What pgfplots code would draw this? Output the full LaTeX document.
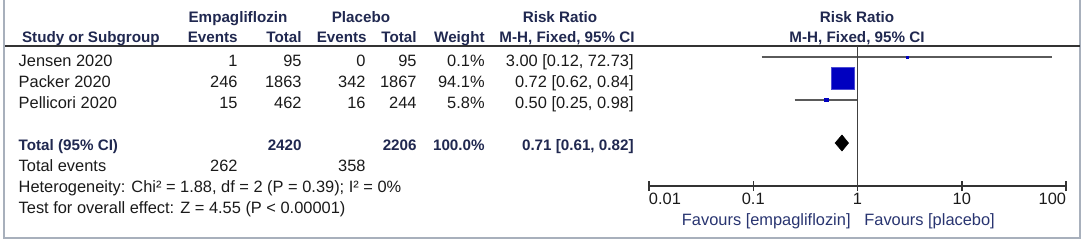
\documentclass[border=0pt]{standalone}
\usepackage{fontspec}
\setmainfont{Liberation Sans}
\usepackage{pgfplots}
\pgfplotsset{compat=1.18}
\definecolor{txt}{HTML}{1A1A1A}
\definecolor{hdr}{HTML}{202850}
\definecolor{fav}{HTML}{283470}
\definecolor{frame}{HTML}{A8B0BC}
\definecolor{ciline}{HTML}{5A5A5A}
\definecolor{sq}{HTML}{0000C0}
\begin{document}
\begin{tikzpicture}[x=0.5pt,y=-0.5pt,
  t/.style={font=\fontsize{8.2}{9}\selectfont, text=txt, inner sep=0pt},
  h/.style={font=\fontsize{7.6}{9}\selectfont\bfseries, text=hdr, inner sep=0pt}]
\useasboundingbox (0,0) rectangle (1084,243);
% frame
\draw[frame, line width=1pt] (4,0) -- (4,238) -- (1080,238) -- (1080,0);
\draw[black!80, line width=0.75pt] (5,46) -- (1080,46);
% headers
\node[h, anchor=base] at (238,22) {Empagliflozin};
\node[h, anchor=base] at (361,22) {Placebo};
\node[h, anchor=base] at (560,22) {Risk Ratio};
\node[h, anchor=base] at (857,22) {Risk Ratio};
\node[h, anchor=base west] at (21.7,42.7) {Study or Subgroup};
\node[h, anchor=base east] at (238,42.7) {Events};
\node[h, anchor=base east] at (302,42.7) {Total};
\node[h, anchor=base east] at (367,42.7) {Events};
\node[h, anchor=base east] at (417,42.7) {Total};
\node[h, anchor=base east] at (485,42.7) {Weight};
\node[h, anchor=base east] at (635,42.7) {M-H, Fixed, 95\% CI};
\node[h, anchor=base] at (857,42.7) {M-H, Fixed, 95\% CI};
% study rows
\foreach \name/\ee/\et/\pe/\pt/\w/\rr/\yb in {
  Jensen 2020/1/95/0/95/0.1\%/{3.00 [0.12, 72.73]}/66.7,
  Packer 2020/246/1863/342/1867/94.1\%/{0.72 [0.62, 0.84]}/87.3,
  Pellicori 2020/15/462/16/244/5.8\%/{0.50 [0.25, 0.98]}/108.7}{
  \node[t, anchor=base west] at (18.3,\yb) {\name};
  \node[t, anchor=base east] at (238,\yb) {\ee};
  \node[t, anchor=base east] at (302,\yb) {\et};
  \node[t, anchor=base east] at (366,\yb) {\pe};
  \node[t, anchor=base east] at (417,\yb) {\pt};
  \node[t, anchor=base east] at (485,\yb) {\w};
  \node[t, anchor=base east] at (634,\yb) {\rr};
}
% total row
\node[h, anchor=base west] at (18.3,150.7) {Total (95\% CI)};
\node[h, anchor=base east] at (302,150.7) {2420};
\node[h, anchor=base east] at (417,150.7) {2206};
\node[h, anchor=base east] at (485,150.7) {100.0\%};
\node[h, anchor=base east] at (634,150.7) {0.71 [0.61, 0.82]};
\node[t, anchor=base west] at (18.3,171.7) {Total events};
\node[t, anchor=base east] at (238,171.7) {262};
\node[t, anchor=base east] at (366,171.7) {358};
\node[t, anchor=base west] at (18.3,192.7) {Heterogeneity: Chi² = 1.88, df = 2 (P = 0.39); I² = 0\%};
\node[t, anchor=base west] at (18.3,213.3) {Test for overall effect: Z = 4.55 (P < 0.00001)};
% favours
\node[t, text=fav, anchor=base east] at (851,225) {Favours [empagliflozin]};
\node[t, text=fav, anchor=base west] at (864,225) {Favours [placebo]};
\coordinate (O) at (649,186);
\begin{axis}[at={(O)}, anchor=south west, scale only axis,
  width=208.5pt, height=70pt,
  xmode=log, xmin=0.01, xmax=100, ymin=57, ymax=197,
  axis x line*=bottom, axis y line=none,
  axis line style={line width=0.75pt, black!80},
  xtick={0.01,0.1,1,10,100},
  xticklabels={\makebox[0pt][l]{0.01},0.1,1,10,\makebox[0pt][r]{100}},
  minor xtick={}, xminorticks=false,
  xtick align=center, major tick length=5pt,
  every tick/.style={line width=0.75pt, black!80},
  xticklabel style={anchor=base, yshift=-6.85pt, inner sep=0pt,
    font=\fontsize{8.2}{9}\selectfont, text=txt},
  clip=false]
% confidence intervals
\addplot[ciline, line width=1pt] coordinates {(0.12,185.7) (72.73,185.7)};
\addplot[ciline, line width=1pt] coordinates {(0.62,165) (0.84,165)};
\addplot[ciline, line width=1pt] coordinates {(0.25,143) (0.98,143)};
% point estimates
\addplot[only marks, mark=square*, mark size=0.6pt, mark options={fill=sq, draw=sq, line width=0.2pt}] coordinates {(3.00,185.7)};
\addplot[only marks, mark=square*, mark size=5.6pt, mark options={fill=sq, draw=sq!70!white, line width=0.3pt}] coordinates {(0.72,165)};
\addplot[only marks, mark=square*, mark size=0.8pt, mark options={fill=sq, draw=sq, line width=0.2pt}] coordinates {(0.50,143)};
% pooled diamond
\addplot[fill=black, draw=black, line width=0.3pt] coordinates {(0.61,100) (0.71,108) (0.82,100) (0.71,92)} -- cycle;
% line of no effect
\addplot[black!75, line width=0.75pt] coordinates {(1,57) (1,197)};
\end{axis}
\end{tikzpicture}
\end{document}
